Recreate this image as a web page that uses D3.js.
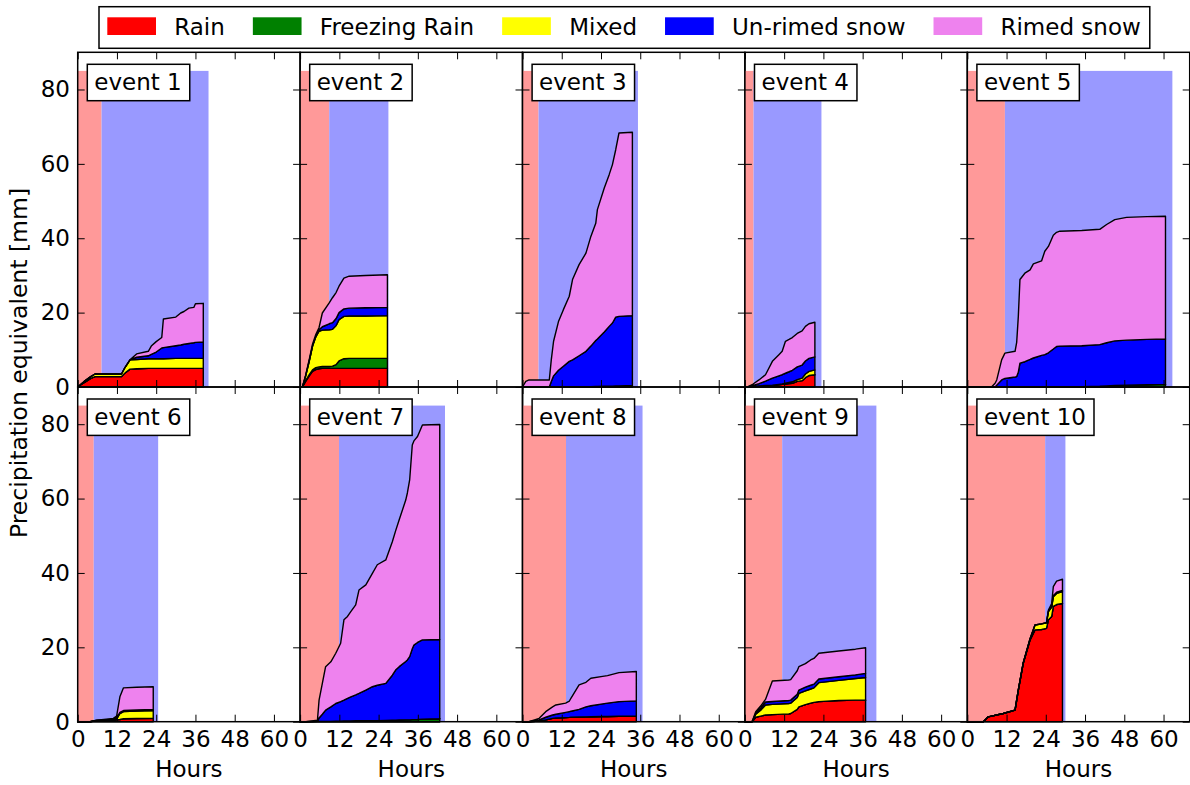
<!DOCTYPE html>
<html><head><meta charset="utf-8">
<script src="https://cdn.jsdelivr.net/npm/d3@7"></script>
<style>body{margin:0;background:#fff} svg{display:block} text{font-family:"DejaVu Sans",sans-serif;fill:#000}</style>
</head><body><svg id="c" width="1190" height="785"></svg>
<script>
const eventNames = ["event 1","event 2","event 3","event 4","event 5","event 6","event 7","event 8","event 9","event 10"];
const typeNames = ["Rain","Freezing Rain","Mixed","Un-rimed snow","Rimed snow"];
const typeColors = ["#ff0000","#008000","#ffff00","#0000ff","#ee82ee"];
const rainPeriodEnd = [7.3, 8.9, 4.9, 2.65, 11.5, 4.9, 11.9, 13.3, 11.4, 23.8];
const snowPeriodEnd = [40, 27, 35.3, 23.4, 62.7, 24.6, 44.3, 36.7, 40.2, 30];
const shadeTop = 85;
const xTicks = [0, 12, 24, 36, 48, 60];
const yTicks = [0, 20, 40, 60, 80];

const hours = [
  [0,2,4,5.3,13.4,14.5,16,18,21.6,22.5,24,25.7,26.2,30,31.5,32.5,34,35.5,36,38.4],
  [0,0.7,1.7,2.8,3.8,4.8,5.8,6.8,8.9,9.9,11,11.9,13.4,15,20,26.7],
  [0,1,2,8.2,8.8,9.5,11,12.5,14.3,15.3,17.3,19.4,20.9,22.4,22.9,25,26.5,27.5,28.5,29.5,33.6],
  [0,0.7,2.5,4.3,6.3,8.4,10.4,11.4,12.4,13.5,14.5,16,17.5,18.5,19.6,21.4],
  [0,7.4,8.5,9,10.5,11.5,14.6,15.1,15.6,16.1,17.6,19.2,20.2,22.7,23.7,24.8,26.3,27.3,28.3,35,40.5,42.6,45.1,48.7,55,60.6],
  [0,3.8,5.8,8,10.9,11.9,12.9,14,18,23.1],
  [0,1.7,5.3,5.8,6.8,7.8,9.4,10.9,12.4,13.4,14.5,15.5,17,18,20.1,22.1,23.6,26.2,28.2,29.2,30.3,32.3,32.8,33.5,34.3,34.8,35.9,37.4,42.7],
  [0,2,5.1,7.1,9.2,10.2,13.2,14.3,14.8,17.3,19.4,20.9,24.5,26,29.5,34.8],
  [0,2.2,3.3,4.8,6.3,8.4,13.4,14,16,16.5,18.5,20.1,21.1,22.6,28.7,33.8,36.9],
  [0,4.9,6.4,11,14.6,15.6,17.1,19.2,20.7,22.7,24.2,24.8,25.8,26.3,27.3,29.1]
];
const rain = [
  [0,1.2,2.3,2.8,2.8,3.8,4.8,4.9,5,5,5,5,5,5,5,5,5,5,5,5],
  [0,0,1.5,3,4.2,4.7,4.9,5,5,5,5,5,5,5,5,5],
  [0,0,0,0,0,0,0,0,0,0,0,0,0,0,0,0,0,0,0,0,0],
  [0,0,0.1,0.2,0.3,0.4,0.6,0.7,0.8,0.9,1,1.5,1.7,2.5,3.1,3.3],
  [0,0,0,0,0,0,0,0,0,0,0,0,0,0,0,0,0,0,0,0,0,0,0,0,0,0],
  [0,0,0.3,0.35,0.4,0.5,0.6,0.8,0.85,0.9],
  [0,0,0,0,0,0,0,0,0,0,0,0,0,0,0,0,0,0,0,0,0,0,0,0,0,0,0,0,0],
  [0,0,0.2,0.5,0.9,1,1.1,1.15,1.2,1.25,1.3,1.35,1.4,1.4,1.45,1.5],
  [0,0,1.2,1.5,1.8,1.9,2.1,2.2,3.3,4,4.6,5,5.2,5.4,5.7,5.8,5.8],
  [0,0,1.3,2.2,3.1,8.5,15.7,22,24.7,24.8,25.1,27.4,28.3,31,31.5,31.8]
];
const freezingRain = [
  [0,0,0,0,0,0,0,0,0,0,0,0,0,0,0,0,0,0,0,0],
  [0,0,0.2,0.3,0.4,0.5,0.5,0.5,0.5,0.6,1,2,2.6,2.7,2.7,2.7],
  [0,0,0,0,0,0,0,0,0,0,0,0,0,0,0,0,0,0,0,0,0],
  [0,0,0,0,0,0,0,0,0,0,0,0,0,0,0,0],
  [0,0,0,0,0,0,0,0,0,0,0,0,0,0,0,0,0.05,0.05,0.1,0.1,0.2,0.3,0.4,0.5,0.6,0.7],
  [0,0,0,0,0,0,0,0,0,0],
  [0,0,0.1,0.1,0.1,0.1,0.1,0.15,0.15,0.2,0.2,0.2,0.25,0.25,0.3,0.3,0.3,0.35,0.4,0.4,0.45,0.5,0.5,0.5,0.55,0.55,0.6,0.7,0.8],
  [0,0,0,0,0,0,0,0,0,0,0,0,0,0,0,0],
  [0,0,0,0,0,0,0,0,0,0,0,0,0,0,0,0,0],
  [0,0,0,0,0,0,0,0,0,0,0,0,0,0,0,0]
];
const mixed = [
  [0,0.3,0.5,0.7,0.7,1.5,2.5,2.5,2.6,2.6,2.6,2.6,2.6,2.7,2.7,2.7,2.7,2.7,2.7,2.7],
  [0,0,1.3,3.7,6.4,8.3,9.6,9.8,9.9,9.9,10.5,11.1,11.4,11.4,11.4,11.5],
  [0,0,0,0,0,0,0,0,0.05,0.05,0.1,0.1,0.1,0.15,0.15,0.2,0.2,0.2,0.25,0.3,0.4],
  [0,0,0.05,0.1,0.1,0.1,0.1,0.1,0.2,0.3,0.4,0.5,0.7,1,1.1,1.3],
  [0,0,0,0,0,0,0,0,0,0,0,0,0,0,0,0,0,0,0,0,0,0,0,0,0,0],
  [0,0,0,0,0.05,0.2,1.6,1.9,2,2.1],
  [0,0,0,0,0,0,0,0,0,0,0,0,0,0,0,0,0,0,0,0,0,0,0,0,0,0,0,0,0],
  [0,0,0,0,0,0,0,0,0,0,0,0,0,0,0,0],
  [0,0,0.8,1.6,2.7,2.75,2.8,2.8,3.2,3.6,3.7,3.8,3.9,5.1,5.4,5.8,6.1],
  [0,0,0,0,0,0,0.1,0.3,1.3,1.5,1.5,2.2,2.5,2.6,3,3.2]
];
const unrimedSnow = [
  [0,0,0,0,0,0,0,0.6,0.8,1.2,1.8,2.9,3,3.4,3.6,3.8,4,4.2,4.3,4.4],
  [0,0,0,0,0,0.1,0.4,0.9,1.6,1.8,1.9,1.9,2,2.1,2.2,2.2],
  [0,0,0,0,1.5,3,4.5,5.6,6.85,7.25,8.3,9.5,10.9,12.35,12.75,14.6,16.1,17,18.55,18.7,18.8],
  [0,0,0.25,0.6,1.2,1.9,2.3,2.5,2.7,2.9,3.1,3.4,3.5,3.5,3.5,3.5],
  [0,0,0,0.5,1.9,2.3,2.7,2.8,4,6.4,6.8,7.4,7.8,8.5,8.7,9.2,10.15,10.85,10.9,11,11.2,11.6,12,12.1,12.2,12.2],
  [0,0,0.1,0.15,0.2,0.3,0.3,0.3,0.3,0.3],
  [0,0,0,0.9,1.9,3,3.9,4.75,5.25,5.6,6.1,6.5,6.95,7.35,8.2,9.1,9.5,9.95,12.1,13.5,14.35,15.7,16.1,17,19.05,20.05,20.7,21.3,21.3],
  [0,0,0.3,0.7,0.9,1,1.4,1.55,1.6,2.05,2.7,2.95,3.4,3.6,3.95,4.1],
  [0,0,0.3,0.5,0.8,0.8,0.8,0.8,0.9,0.9,1,1,1,1,1,1,1.1],
  [0,0,0,0,0,0,0,0,0,0,0,0.1,0.2,0.3,0.3,0.3]
];
const rimedSnow = [
  [0,0,0,0,0,0,0,0.9,1.2,2.2,2.8,2.8,7.7,7.7,8.6,8.8,9.5,9.5,10.4,10.4],
  [0,0,0.2,0.4,0.5,0.5,0.6,3.7,5.6,6.7,7,7.1,8.3,8.6,8.7,8.8],
  [0,1.5,1.9,1.9,5.8,9.3,13.1,15.2,17.5,21.6,24.5,26.4,29.5,31.5,34.8,38.7,40.8,42.6,45,49.3,49.3],
  [0,0,0.4,1,1.7,4.5,5.7,6.3,8.6,8.7,8.8,9,9.2,9.3,9.3,9.3],
  [0,0,1,1.4,5.4,6.8,6.9,9.2,15,22.5,23.8,24.1,25.3,25.4,27.8,28.6,30.6,30.7,30.9,31,31,31.8,32.6,33,33,33],
  [0,0,0,0.1,0.25,0.5,4.2,6.1,6.1,6.1],
  [0,0,0.3,4.8,8.3,11.7,12.1,13.5,15.7,21.6,22,22.9,24.2,27.8,28.3,30.5,32.4,33.2,35.9,37.4,39.5,43.4,44.9,47.5,54.8,54.9,55.4,57.8,57.8],
  [0,0,0.4,1.5,2.2,2.5,2.5,2.8,3.5,6.6,6.6,7.4,7.4,7.4,7.8,7.9],
  [0,0,0.4,0.6,0.7,5.5,5.5,5.5,6.3,6.3,6.3,6.8,6.9,6.9,6.9,6.9,6.9],
  [0,0,0,0,0,0,0,0,0,0,0,0.3,0.8,2.4,3,3]
];

const series = [rain, freezingRain, mixed, unrimedSnow, rimedSnow];
const svg = d3.select("#c");
const FS = 23;
const plotLeft = 77.7, plotTop = 52.3, pw = 222.4, ph = 334.7;
const x = d3.scaleLinear().domain([0, 68]).range([0, pw]);
const y = d3.scaleLinear().domain([0, 90]).range([ph, 0]);

eventNames.forEach((name, i) => {
  const col = i % 5, row = Math.floor(i / 5);
  const g = svg.append("g").attr("transform", `translate(${plotLeft + col * pw},${plotTop + row * ph})`);
  g.append("rect").attr("x", x(0)).attr("y", y(shadeTop))
    .attr("width", x(rainPeriodEnd[i]) - x(0)).attr("height", y(0) - y(shadeTop)).attr("fill", "#ff9999");
  g.append("rect").attr("x", x(rainPeriodEnd[i])).attr("y", y(shadeTop))
    .attr("width", x(snowPeriodEnd[i]) - x(rainPeriodEnd[i])).attr("height", y(0) - y(shadeTop)).attr("fill", "#9999ff");

  const rows = hours[i].map((h, k) => ({ h, v: series.map(s => s[i][k]) }));
  const layers = d3.stack().keys([0, 1, 2, 3, 4]).value((d, k) => d.v[k])(rows);
  const area = d3.area().x(d => x(d.data.h)).y0(d => y(d[0])).y1(d => y(d[1]));
  g.selectAll("path.layer").data(layers).join("path").attr("class", "layer")
    .attr("d", area).attr("fill", (d, k) => typeColors[k])
    .attr("stroke", "#000").attr("stroke-width", 1.4).attr("stroke-linejoin", "round");

  const styleAxis = sel => {
    sel.select(".domain").remove();
    sel.selectAll(".tick line").attr("stroke", "#000").attr("stroke-width", 1);
    sel.selectAll(".tick text").attr("font-size", FS).attr("font-family", '"DejaVu Sans"').attr("fill", "#000");
  };
  g.append("g").attr("transform", `translate(0,${ph})`)
    .call(d3.axisBottom(x).tickValues(xTicks).tickSizeInner(-7).tickSizeOuter(0).tickPadding(8.5)
      .tickFormat(row === 1 ? d3.format("d") : () => ""))
    .call(styleAxis);
  g.append("g").call(d3.axisTop(x).tickValues(xTicks).tickSizeInner(-7).tickSizeOuter(0).tickFormat(() => ""))
    .call(styleAxis);
  g.append("g").call(d3.axisLeft(y).tickValues(yTicks).tickSizeInner(-7).tickSizeOuter(0).tickPadding(7.7)
      .tickFormat(col === 0 ? d3.format("d") : () => ""))
    .call(styleAxis);
  g.append("g").attr("transform", `translate(${pw},0)`)
    .call(d3.axisRight(y).tickValues(yTicks).tickSizeInner(-7).tickSizeOuter(0).tickFormat(() => ""))
    .call(styleAxis);
  g.append("rect").attr("width", pw).attr("height", ph).attr("fill", "none").attr("stroke", "#000").attr("stroke-width", 1.5);

  const lab = g.append("g").attr("transform", "translate(9.6,12)");
  const box = lab.append("rect").attr("height", 36.4).attr("fill", "#fff").attr("stroke", "#000").attr("stroke-width", 1.5);
  const t = lab.append("text").attr("x", 7).attr("y", 25.6).attr("font-size", FS).text(name);
  box.attr("width", t.node().getComputedTextLength() + 15);

  if (row === 1) {
    g.append("text").attr("x", pw / 2).attr("y", ph + 55).attr("text-anchor", "middle")
      .attr("font-size", FS).text("Hours");
  }
});

svg.append("text").attr("transform", `translate(27,363) rotate(-90)`)
  .attr("text-anchor", "middle").attr("font-size", 23.5).text("Precipitation equivalent [mm]");

// legend
const lg = svg.append("g");
const lbox = lg.append("rect").attr("x", 99).attr("y", 6.7).attr("height", 41.6)
  .attr("fill", "#fff").attr("stroke", "#000").attr("stroke-width", 1.5);
let cx = 107.3;
typeNames.forEach((n, k) => {
  lg.append("rect").attr("x", cx).attr("y", 17.3).attr("width", 48.7).attr("height", 17.7).attr("fill", typeColors[k]);
  const tx = lg.append("text").attr("x", cx + 67).attr("y", 34.5).attr("font-size", FS).text(n);
  cx = cx + 67 + tx.node().getComputedTextLength() + 28;
});
lbox.attr("width", cx - 28 + 9 - 99);
</script></body></html>
